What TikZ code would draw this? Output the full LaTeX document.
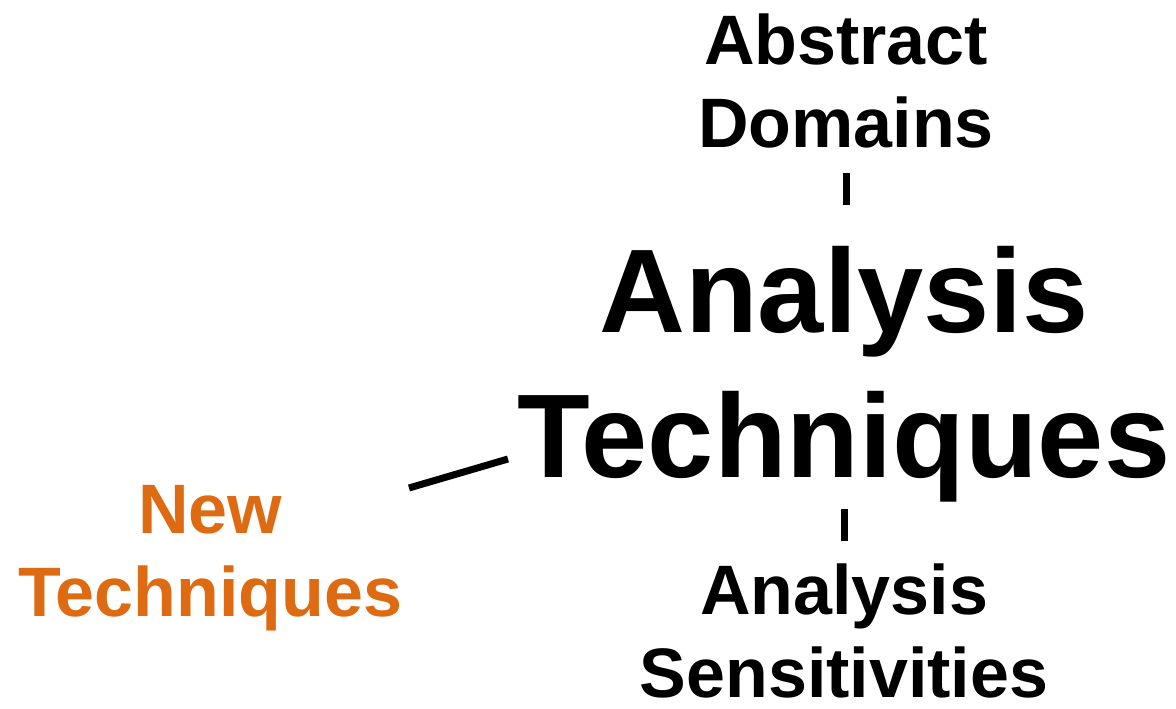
\documentclass[tikz,border=0pt]{standalone}
\usepackage{fontspec}
\setmainfont{Liberation Sans}
\definecolor{newor}{RGB}{222,107,18}
\begin{document}
\begin{tikzpicture}[x=1pt,y=1pt,
  lbl/.style={inner sep=0pt,outer sep=0pt,align=center,anchor=base,
    font=\fontsize{70}{83}\selectfont\bfseries},
  big/.style={inner sep=0pt,outer sep=0pt,align=center,anchor=base,
    font=\fontsize{119}{145}\selectfont\bfseries},
  tick/.style={line width=7pt},
  link/.style={line width=7pt}]
\useasboundingbox (0,0) rectangle (1176,709);
\node[lbl] (ad) at (846,561) {Abstract\\Domains};
\node[big] (at) at (844,231) {Analysis\\Techniques};
\node[lbl] (as) at (844,11) {Analysis\\Sensitivities};
\node[lbl,text=newor] (nt) at (210,92) {New\\Techniques};
\draw[tick,shorten <=24pt,shorten >=42pt] (ad.south) -- (ad.south |- at.north);
\draw[tick,shorten <=6pt,shorten >=23pt] (at.south) -- (at.south |- as.north);
\coordinate (ntend) at (409,221);
\coordinate (atend) at (508,250);
\draw[link] (ntend) -- (atend);
\end{tikzpicture}
\end{document}
